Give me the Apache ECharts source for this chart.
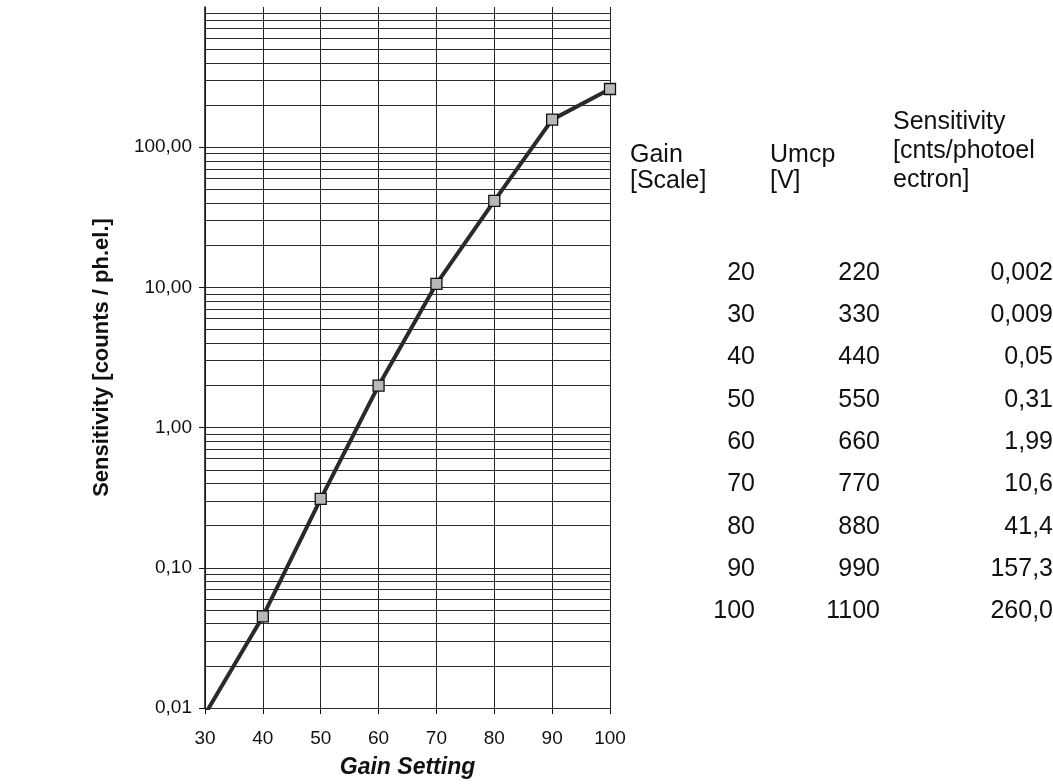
<!DOCTYPE html>
<html>
<head>
<meta charset="utf-8">
<script src="https://cdn.jsdelivr.net/npm/echarts@6/dist/echarts.min.js"></script>
<style>
  html, body { margin: 0; padding: 0; background: #fff; }
  #chart { width: 1053px; height: 784px; }
</style>
</head>
<body>
<div id="chart"></div>
<script>
// ---- data ----
const gain = [20, 30, 40, 50, 60, 70, 80, 90, 100];
const umcp = [220, 330, 440, 550, 660, 770, 880, 990, 1100];
const sensitivity = [0.002, 0.009, 0.045, 0.31, 1.99, 10.6, 41.4, 157.3, 260.0];
const sensitivityText = ['0,002', '0,009', '0,05', '0,31', '1,99', '10,6', '41,4', '157,3', '260,0'];
const yTickValues = [0.01, 0.1, 1, 10, 100];
const headerGain = ['Gain', '[Scale]'];
const headerUmcp = ['Umcp', '[V]'];
const headerSens = ['Sensitivity', '[cnts/photoel', 'ectron]'];
const xTitle = 'Gain Setting';
const yTitle = 'Sensitivity [counts / ph.el.]';

const FONT = '"Liberation Sans", Arial, sans-serif';

// minor log gridlines (2..9 within each decade)
const minorLines = [];
for (let e = -2; e <= 2; e++) {
  for (let k = 2; k <= 9; k++) {
    minorLines.push({ yAxis: k * Math.pow(10, e) });
  }
}

// table as text graphics
const graphics = [];
const txt = (x, y, text, align) => ({
  type: 'text', x: x, y: y, silent: true,
  style: { text: text, x: 0, y: 0, fill: '#111', font: '25px ' + FONT, textAlign: align, textVerticalAlign: 'middle' }
});
headerGain.forEach((t, i) => graphics.push(txt(630, 155 + i * 26, t, 'left')));
headerUmcp.forEach((t, i) => graphics.push(txt(770, 155 + i * 26, t, 'left')));
headerSens.forEach((t, i) => graphics.push(txt(893, 122 + i * 29, t, 'left')));
gain.forEach((g, i) => {
  const y = 273 + i * 42.3;
  graphics.push(txt(755, y, String(g), 'right'));
  graphics.push(txt(880, y, String(umcp[i]), 'right'));
  graphics.push(txt(1053, y, sensitivityText[i], 'right'));
});

const chart = echarts.init(document.getElementById('chart'), null, { renderer: 'canvas' });
chart.setOption({
  animation: false,
  backgroundColor: '#fff',
  grid: { left: 205, right: 443, top: 7, bottom: 72, containLabel: false },
  xAxis: {
    type: 'value', min: 30, max: 100, interval: 10,
    name: xTitle, nameLocation: 'middle', nameGap: 48,
    nameTextStyle: { fontFamily: FONT, fontSize: 23, fontWeight: 'bold', fontStyle: 'italic', color: '#111' },
    axisLine: { show: true, lineStyle: { color: '#111', width: 1.2 } },
    axisTick: { show: true, inside: false, length: 6, lineStyle: { color: '#111' } },
    axisLabel: { margin: 21, fontFamily: FONT, fontSize: 19, color: '#111' },
    splitLine: { show: true, lineStyle: { color: '#222', width: 1 } }
  },
  yAxis: {
    type: 'log', logBase: 10, min: 0.01, max: 1000, splitNumber: 5,
    name: yTitle, nameLocation: 'middle', nameGap: 92, nameRotate: 90,
    nameTextStyle: { fontFamily: FONT, fontSize: 22, fontWeight: 'bold', color: '#111' },
    axisLine: { show: true, lineStyle: { color: '#111', width: 1.5 } },
    axisTick: { show: true, inside: false, length: 6, customValues: yTickValues, lineStyle: { color: '#111' } },
    axisLabel: {
      margin: 13, fontFamily: FONT, fontSize: 19, color: '#111', customValues: yTickValues,
      formatter: v => Number(v).toFixed(2).replace('.', ',')
    },
    splitLine: { show: true, showMaxLine: false, lineStyle: { color: '#111', width: 1 } }
  },
  series: [
    {
      type: 'line', data: [], z: 1, silent: true,
      markLine: {
        silent: true, symbol: ['none', 'none'], animation: false,
        label: { show: false },
        lineStyle: { type: 'solid', color: '#2a2a2a', width: 1 },
        emphasis: { disabled: true },
        data: minorLines.concat(yTickValues.map(v => ({ yAxis: v })))
      }
    },
    {
      type: 'line', z: 5, clip: true,
      data: gain.map((g, i) => [g, sensitivity[i]]),
      lineStyle: { color: '#2a2a2a', width: 4 },
      symbol: 'rect', symbolSize: 11,
      itemStyle: { color: '#b8b8b8', borderColor: '#111', borderWidth: 1.3 }
    }
  ],
  graphic: graphics
});
</script>
</body>
</html>
